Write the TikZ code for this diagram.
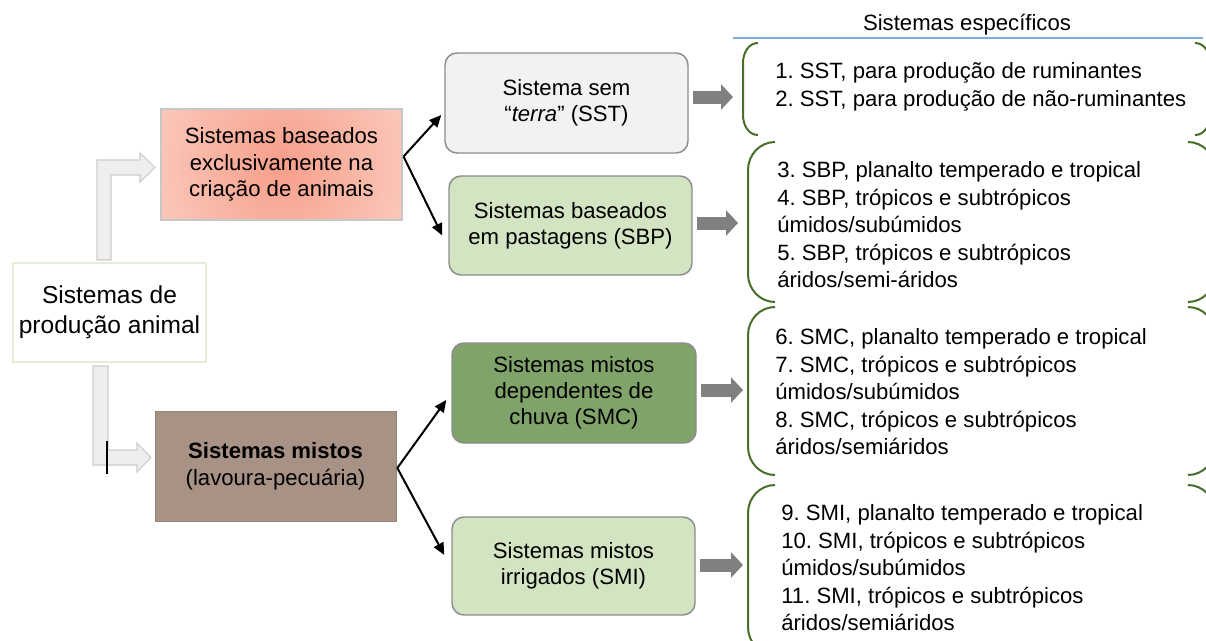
\documentclass[tikz,border=0pt]{standalone}
\usepackage{fontspec}
\setmainfont{Liberation Sans}
\frenchspacing
\usetikzlibrary{arrows.meta,calc}
\definecolor{redin}{RGB}{247,158,138}
\definecolor{redmid}{RGB}{250,194,179}
\definecolor{redout}{RGB}{253,227,220}
\definecolor{brownbox}{RGB}{168,145,133}
\definecolor{graybox}{RGB}{242,242,242}
\definecolor{lgreen}{RGB}{210,228,194}
\definecolor{dgreen}{RGB}{128,163,106}
\definecolor{brkgreen}{RGB}{72,110,42}
\definecolor{hollowfill}{RGB}{238,238,238}
\definecolor{hollowdraw}{RGB}{205,205,205}
\definecolor{blockgray}{RGB}{128,128,128}
\definecolor{titleblue}{RGB}{127,176,220}
\definecolor{leftborder}{RGB}{226,238,214}
\pgfdeclareradialshading{redglow}{\pgfpoint{0bp}{0bp}}{color(0bp)=(redin); color(20bp)=(redmid); color(43bp)=(redout); color(50bp)=(redout)}
\tikzset{
  basefont/.style={font=\fontsize{16.6}{19.5}\selectfont},
  midbox/.style={draw=black!45, line width=1.1pt, rounded corners=9pt, inner sep=0pt, align=center, basefont},
  sqbox/.style={inner sep=0pt, align=center, font=\fontsize{16.6}{20}\selectfont},
  listtext/.style={anchor=west, align=left, inner sep=0pt, font=\fontsize{16.6}{20.6}\selectfont},
  brk/.style={draw=brkgreen, line width=1.5pt},
  blackarrow/.style={draw=black, line width=1.5pt, -{Triangle[length=9pt,width=8pt]}},
  blockarrow/.style={draw=blockgray, line width=9.75pt, line cap=butt, -{Triangle[length=9pt,width=18.75pt]}},
  hollow/.style={fill=hollowfill, draw=hollowdraw, line width=0.8pt}
}
\begin{document}
\begin{tikzpicture}[x=0.75pt,y=-0.75pt]
\clip (0,0) rectangle (1206,640);
\fill[white] (0,0) rectangle (1206,640);

% title
\node[basefont, inner sep=0pt] (title) at (967,25) {Sistemas específicos};
\coordinate (tl) at (733,38);
\coordinate (tr) at (1203,38);
\draw[titleblue, line width=1.2pt] (tl) -- (tr);

% hollow arrows
\draw[hollow] (97,260) -- (97,160) -- (140,160) -- (140,153) -- (155,167.5) -- (140,182) -- (140,175) -- (111,175) -- (111,260) -- cycle;
\draw[hollow] (93,366) -- (93,465) -- (137,465) -- (137,472) -- (151,457.5) -- (137,443) -- (137,450) -- (108,450) -- (108,366) -- cycle;
\coordinate (tickA) at (107,441);
\coordinate (tickB) at (107,474);
\draw[black, line width=0.9pt] (tickA) -- (tickB);

% left nodes
\node[sqbox, draw=leftborder, line width=0.8pt, minimum width=144.75pt, minimum height=74.25pt,
      font=\fontsize{18.4}{22.5}\selectfont] (root) at (109.5,312.5) {Sistemas de\\produção animal};
\node[sqbox, draw=black!22, line width=0.8pt, fill=redout,
      path picture={\shade[shading=redglow] (path picture bounding box.center) circle (105pt);},
      minimum width=180.75pt, minimum height=83.25pt] (red) at (281.5,164.5)
      {Sistemas baseados\\exclusivamente na\\criação de animais};
\node[sqbox, fill=brownbox, draw=brownbox!90!black, line width=0.5pt,
      minimum width=180.75pt, minimum height=82.5pt] (brown) at (275.5,466)
      {\textbf{Sistemas mistos}\\(lavoura-pecuária)};

% middle nodes
\node[midbox, fill=graybox, minimum width=182.25pt, minimum height=75pt] (sst) at (566.5,103)
      {Sistema sem\\“\textit{terra}” (SST)};
\node[midbox, fill=lgreen, minimum width=182.25pt, minimum height=74.25pt] (sbp) at (570.5,225.5)
      {Sistemas baseados\\em pastagens (SBP)};
\node[midbox, fill=dgreen, minimum width=183pt, minimum height=75pt] (smc) at (574,393)
      {Sistemas mistos\\dependentes de\\chuva (SMC)};
\node[midbox, fill=lgreen, minimum width=182.25pt, minimum height=73.5pt] (smi) at (573.5,566)
      {Sistemas mistos\\irrigados (SMI)};

% black arrows
\draw[blackarrow] ($(red.east)+(1,-8)$) -- ($(sst.west)+(-3,12)$);
\draw[blackarrow] ($(red.east)+(1,-8)$) -- ($(sbp.west)+(-6,10)$);
\draw[blackarrow] ($(brown.east)+(1,2)$) -- ($(smc.west)+(-5,7)$);
\draw[blackarrow] ($(brown.east)+(1,2)$) -- ($(smi.west)+(-7,-11)$);

% list texts
\node[listtext] (l1) at (775,87) {1. SST, para produção de ruminantes\\2. SST, para produção de não-ruminantes};
\node[listtext] (l2) at (777,225) {3. SBP, planalto temperado e tropical\\4. SBP, trópicos e subtrópicos\\úmidos/subúmidos\\5. SBP, trópicos e subtrópicos\\áridos/semi-áridos};
\node[listtext] (l3) at (775,392) {6. SMC, planalto temperado e tropical\\7. SMC, trópicos e subtrópicos\\úmidos/subúmidos\\8. SMC, trópicos e subtrópicos\\áridos/semiáridos};
\node[listtext] (l4) at (781,568) {9. SMI, planalto temperado e tropical\\10. SMI, trópicos e subtrópicos\\úmidos/subúmidos\\11. SMI, trópicos e subtrópicos\\áridos/semiáridos};

% brackets
\draw[brk] (758,43) to[out=180,in=90] (743,63) -- (743,115) to[out=-90,in=180] (758,135);
\draw[brk] (1195,43) to[out=0,in=90] (1210,63) -- (1210,115) to[out=-90,in=0] (1195,135);
\draw[brk] (775,142) to[out=180,in=90] (748,170) -- (748,274) to[out=-90,in=180] (775,302);
\draw[brk] (1188,142) to[out=0,in=90] (1215,170) -- (1215,274) to[out=-90,in=0] (1188,302);
\draw[brk] (775,307) to[out=180,in=90] (748,335) -- (748,447) to[out=-90,in=180] (775,475);
\draw[brk] (1188,307) to[out=0,in=90] (1215,335) -- (1215,447) to[out=-90,in=0] (1188,475);
\draw[brk] (775,485) to[out=180,in=90] (748,513) -- (748,627) to[out=-90,in=180] (775,655);
\draw[brk] (1188,485) to[out=0,in=90] (1215,513) -- (1215,627) to[out=-90,in=0] (1188,655);

% block arrows
\coordinate (e1) at (733,97);
\coordinate (e2) at (738,223);
\coordinate (e3) at (743,390);
\coordinate (e4) at (743,565);
\draw[blockarrow] (sst.east |- e1) ++(4,0) -- (e1);
\draw[blockarrow] (sbp.east |- e2) ++(4,0) -- (e2);
\draw[blockarrow] (smc.east |- e3) ++(4,0) -- (e3);
\draw[blockarrow] (smi.east |- e4) ++(4,0) -- (e4);
\end{tikzpicture}
\end{document}
